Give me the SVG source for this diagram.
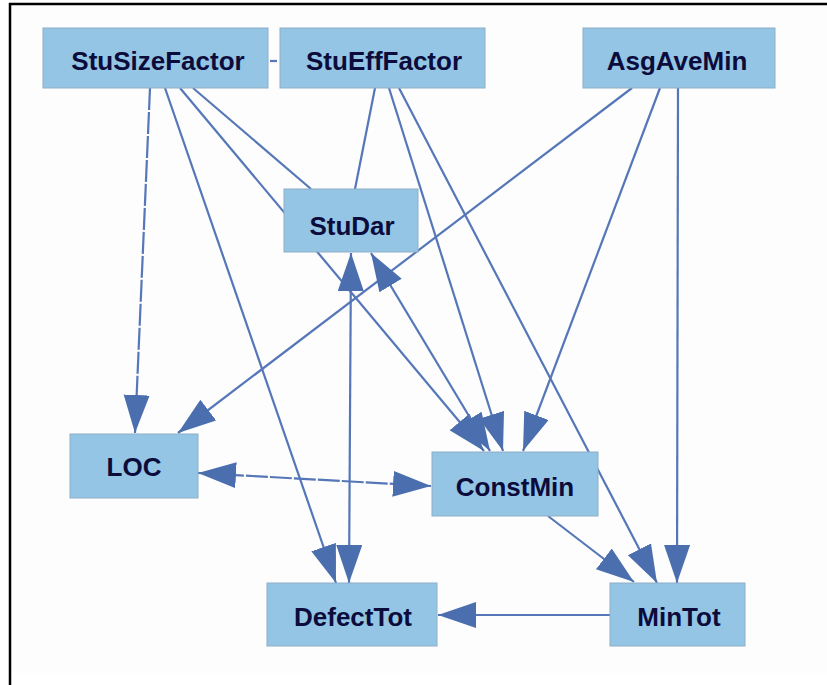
<svg xmlns="http://www.w3.org/2000/svg" width="827" height="685" viewBox="0 0 827 685">
<style>
.node rect{fill:#94c5e4;stroke:#8eaec6;stroke-width:1}
.node text{font-family:"Liberation Sans",Arial,sans-serif;font-weight:bold;font-size:26px;fill:#0c0c3c;text-anchor:middle}
.e{stroke:#5577b8;stroke-width:2.2;fill:none}
.a{marker-end:url(#ah)}
.b{marker-start:url(#ah);marker-end:url(#ah)}
</style>
<defs>
<marker id="ah" markerUnits="userSpaceOnUse" markerWidth="40" markerHeight="28" refX="38" refY="13" orient="auto-start-reverse">
<path d="M0,0 L38,13 L0,26 z" fill="#4a6eae"/>
</marker>
</defs>
<rect x="0" y="0" width="827" height="685" fill="#ffffff"/>
<rect x="11" y="5" width="816" height="668" fill="#fdfdfd"/>
<line x1="9" y1="4" x2="827" y2="4" stroke="#000" stroke-width="2.5"/>
<line x1="10" y1="3" x2="10" y2="685" stroke="#000" stroke-width="2.5"/>
<g id="connectors">
<line class="e a" x1="150" y1="88" x2="135" y2="433" stroke-dasharray="22,2"/>
<line class="e a" x1="165" y1="88" x2="336" y2="583"/>
<line class="e a" x1="180" y1="88" x2="484" y2="451"/>
<line class="e" x1="193" y1="88" x2="311" y2="189"/>
<line class="e" x1="270" y1="61" x2="277" y2="61"/>
<line class="e" x1="375" y1="88" x2="355" y2="189"/>
<line class="e a" x1="389" y1="88" x2="503" y2="451"/>
<line class="e a" x1="399" y1="88" x2="657" y2="583"/>
<line class="e a" x1="632" y1="88" x2="178" y2="433"/>
<line class="e a" x1="660" y1="88" x2="523" y2="451"/>
<line class="e a" x1="678" y1="88" x2="677" y2="583"/>
<line class="e b" x1="351" y1="253" x2="349" y2="583"/>
<line class="e b" x1="371" y1="253" x2="490" y2="451"/>
<line class="e b" x1="198" y1="473" x2="431" y2="486" stroke-dasharray="22,2"/>
<line class="e a" x1="548" y1="516" x2="634" y2="582"/>
<line class="e a" x1="610" y1="615" x2="438" y2="615"/>
</g>
<g id="StuSizeFactor" class="node"><rect x="43" y="28" width="225" height="60"/><text x="158" y="70">StuSizeFactor</text></g>
<g id="StuEffFactor" class="node"><rect x="280" y="28" width="205" height="60"/><text x="384" y="70">StuEffFactor</text></g>
<g id="AsgAveMin" class="node"><rect x="583" y="28" width="192" height="60"/><text x="677" y="70">AsgAveMin</text></g>
<g id="StuDar" class="node"><rect x="284" y="189" width="134" height="63"/><text x="352" y="235">StuDar</text></g>
<g id="LOC" class="node"><rect x="70" y="434" width="128" height="64"/><text x="134" y="476">LOC</text></g>
<g id="ConstMin" class="node"><rect x="432" y="452" width="166" height="64"/><text x="515" y="496">ConstMin</text></g>
<g id="DefectTot" class="node"><rect x="267" y="583" width="170" height="63"/><text x="353" y="626">DefectTot</text></g>
<g id="MinTot" class="node"><rect x="610" y="583" width="135" height="63"/><text x="679" y="626">MinTot</text></g>
</svg>
